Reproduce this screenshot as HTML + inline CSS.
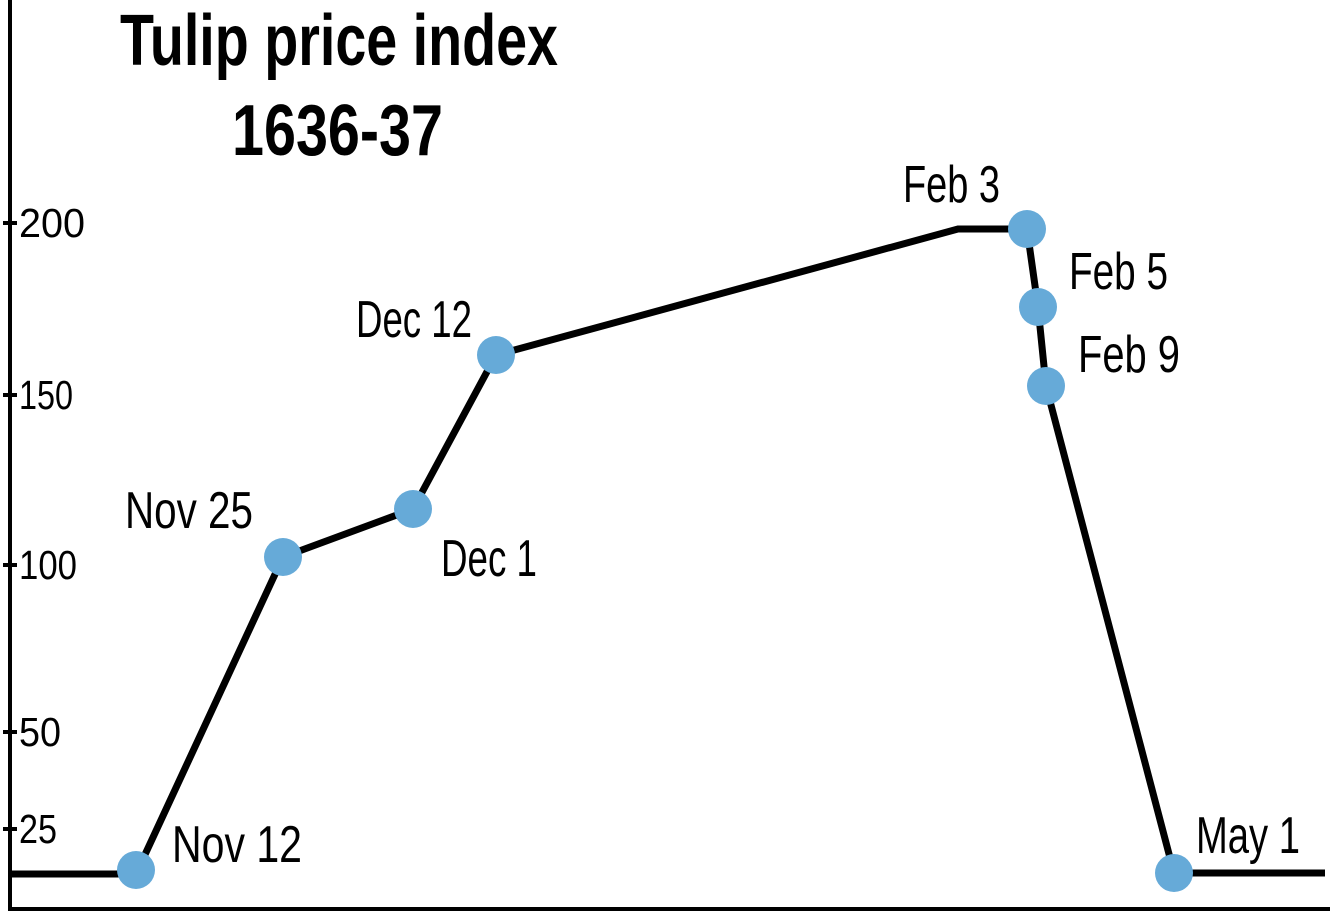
<!DOCTYPE html>
<html><head><meta charset="utf-8"><style>html,body{margin:0;padding:0;background:#fff}svg{display:block}</style></head>
<body>
<svg width="1330" height="915" viewBox="0 0 1330 915" xmlns="http://www.w3.org/2000/svg" font-family="'Liberation Sans Narrow','Liberation Sans',sans-serif">
<rect width="1330" height="915" fill="#fff"/>
<g stroke="#000" stroke-width="4" fill="none">
<line x1="10" y1="0" x2="10" y2="911"/>
<line x1="8" y1="909" x2="1330" y2="909"/>
<line x1="3" y1="223" x2="17" y2="223"/>
<line x1="3" y1="395" x2="17" y2="395"/>
<line x1="3" y1="565" x2="17" y2="565"/>
<line x1="3" y1="732" x2="17" y2="732"/>
<line x1="3" y1="829" x2="17" y2="829"/>
</g>
<g font-size="41" fill="#000">
<text x="19" y="237" textLength="66" lengthAdjust="spacingAndGlyphs">200</text>
<text x="19" y="409" textLength="54" lengthAdjust="spacingAndGlyphs">150</text>
<text x="19" y="579" textLength="58" lengthAdjust="spacingAndGlyphs">100</text>
<text x="19" y="746" textLength="42" lengthAdjust="spacingAndGlyphs">50</text>
<text x="19" y="843" textLength="38" lengthAdjust="spacingAndGlyphs">25</text>
</g>
<polyline points="10,874 136,874 283,557 413,509 496,355 958,229 1027,229 1038,307 1046,386 1174,873 1325,873" fill="none" stroke="#000" stroke-width="7" stroke-linejoin="miter"/>
<g fill="#66aad8">
<circle cx="136" cy="870" r="19"/>
<circle cx="283" cy="557" r="19"/>
<circle cx="413" cy="509" r="19"/>
<circle cx="496" cy="355" r="19"/>
<circle cx="1027" cy="229" r="19"/>
<circle cx="1038" cy="307" r="19"/>
<circle cx="1046" cy="386" r="19"/>
<circle cx="1174" cy="873" r="19"/>
</g>
<g font-size="72" font-weight="bold" fill="#000">
<text x="120" y="65" textLength="438" lengthAdjust="spacingAndGlyphs">Tulip price index</text>
<text x="232" y="155" textLength="211" lengthAdjust="spacingAndGlyphs">1636-37</text>
</g>
<g font-size="52" fill="#000">
<text x="125" y="528" textLength="128" lengthAdjust="spacingAndGlyphs">Nov 25</text>
<text x="356" y="337" textLength="116" lengthAdjust="spacingAndGlyphs">Dec 12</text>
<text x="441" y="576" textLength="96" lengthAdjust="spacingAndGlyphs">Dec 1</text>
<text x="903" y="202" textLength="97" lengthAdjust="spacingAndGlyphs">Feb 3</text>
<text x="1069" y="289" textLength="99" lengthAdjust="spacingAndGlyphs">Feb 5</text>
<text x="1078" y="372" textLength="102" lengthAdjust="spacingAndGlyphs">Feb 9</text>
<text x="1196" y="853" textLength="104" lengthAdjust="spacingAndGlyphs">May 1</text>
<text x="172" y="862" textLength="130" lengthAdjust="spacingAndGlyphs">Nov 12</text>
</g>
</svg>
</body></html>
